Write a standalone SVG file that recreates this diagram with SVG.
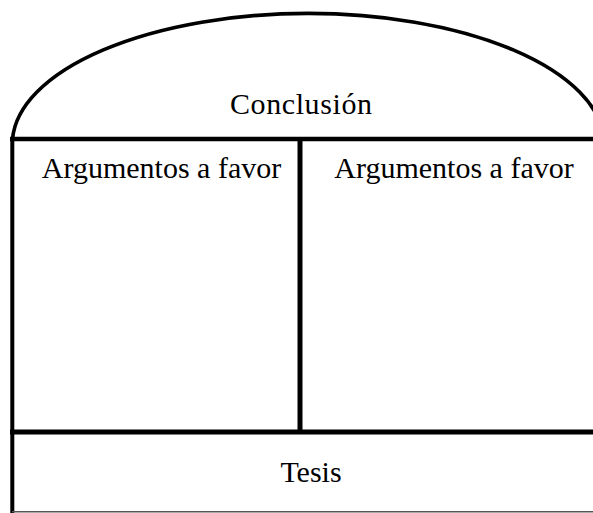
<svg xmlns="http://www.w3.org/2000/svg" width="593" height="513" viewBox="0 0 593 513">
<style>
.ln{stroke:#000;fill:none;stroke-linecap:butt}
.t{font-family:"Liberation Serif","Times New Roman",serif;font-size:30px;fill:#000;text-anchor:middle}
</style>
<rect width="593" height="513" fill="#fff"/>
<g id="connectors">
<path class="ln" d="M 12.5 139 A 296 131 0 0 1 604 139" stroke-width="3.6"/>
<line class="ln" x1="12.3" y1="137" x2="12.3" y2="513" stroke-width="4"/>
<line class="ln" x1="10" y1="139" x2="593" y2="139" stroke-width="4.5"/>
<line class="ln" x1="300" y1="139" x2="300" y2="432" stroke-width="5"/>
<line class="ln" x1="10" y1="432" x2="593" y2="432" stroke-width="5"/>
<line x1="12" y1="511.7" x2="593" y2="511.7" stroke="#555" stroke-width="1.6"/>
</g>
<g id="conclusion"><text class="t" x="301" y="114.3" textLength="142" lengthAdjust="spacing">Conclusión</text></g>
<g id="favor-left"><text class="t" x="161.5" y="178.3">Argumentos a favor</text></g>
<g id="favor-right"><text class="t" x="454" y="178.3">Argumentos a favor</text></g>
<g id="tesis"><text class="t" x="311" y="481.7">Tesis</text></g>
</svg>
